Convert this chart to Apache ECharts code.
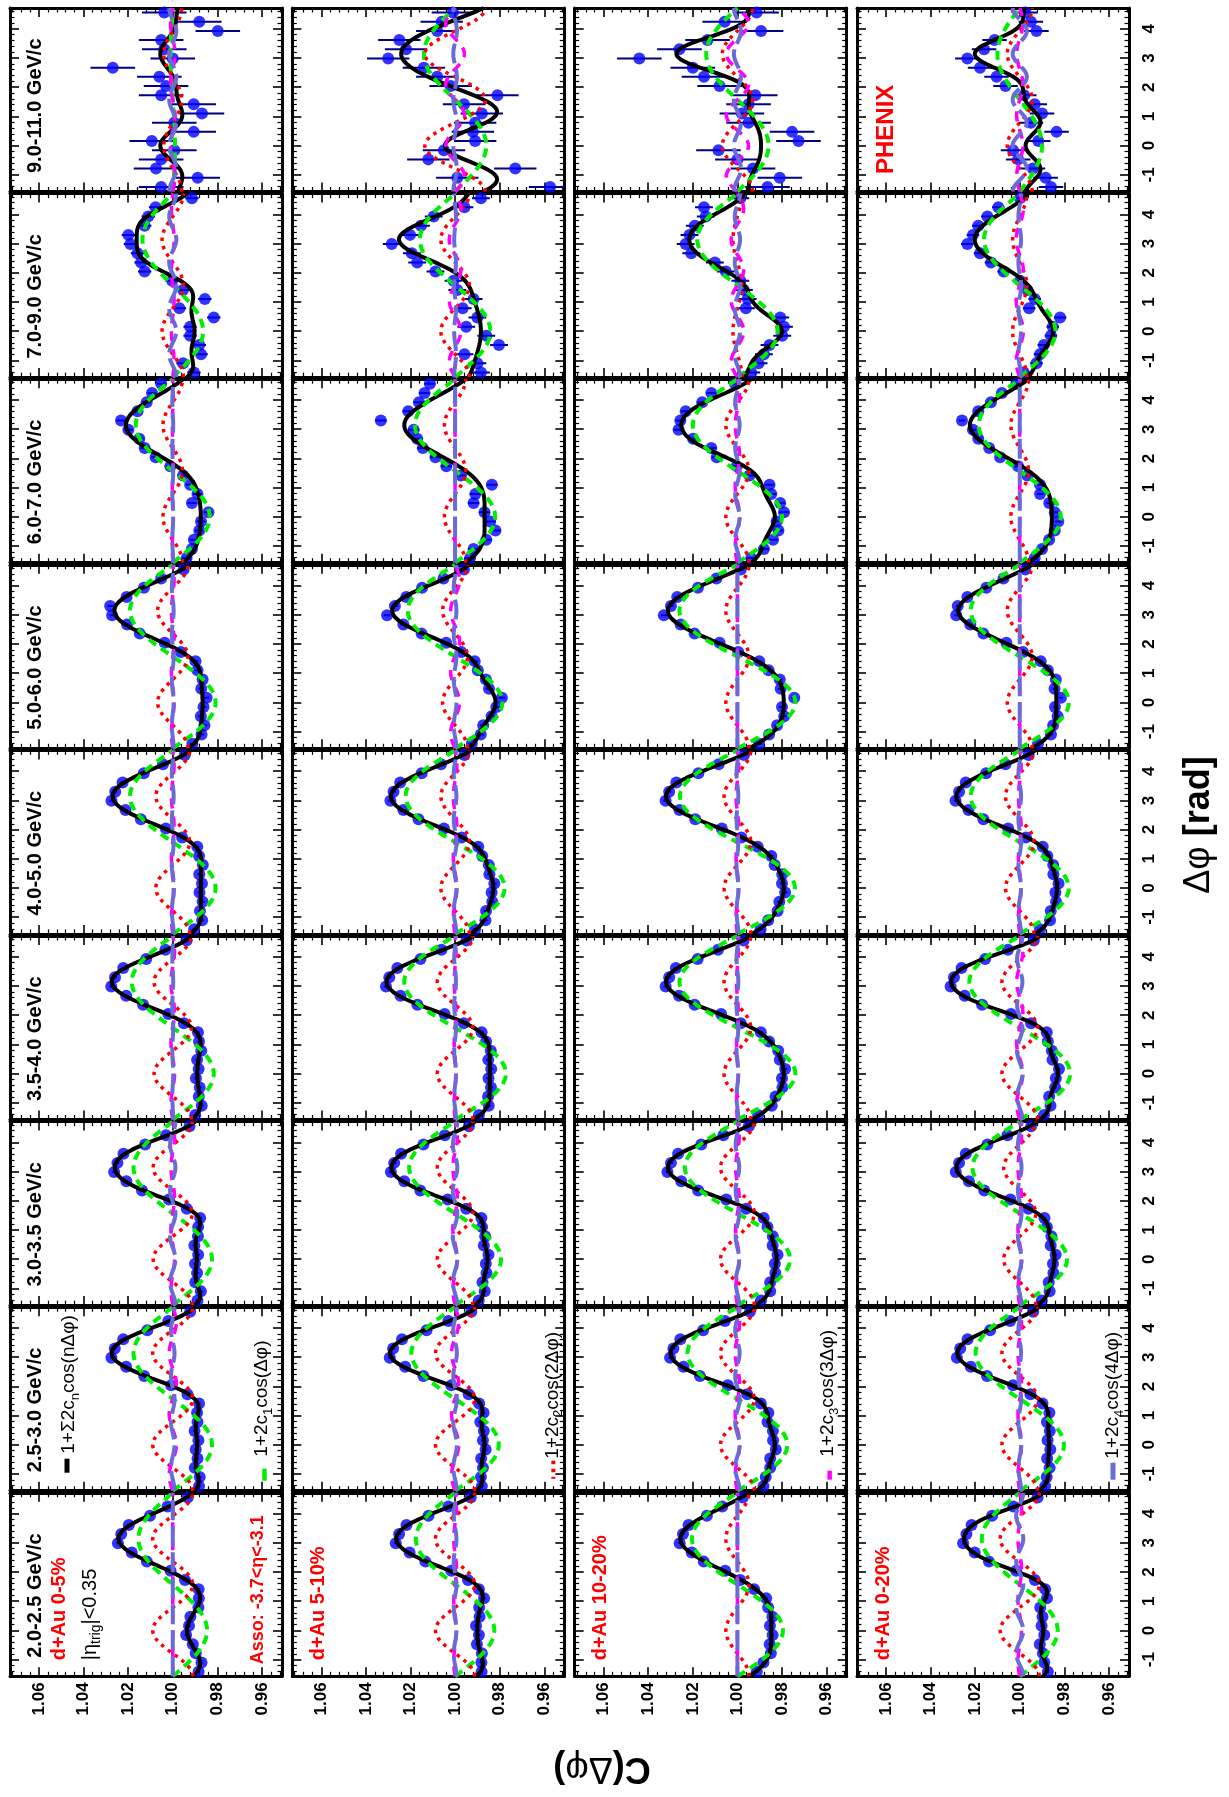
<!DOCTYPE html>
<html>
<head>
<meta charset="utf-8">
<script src="https://cdn.jsdelivr.net/npm/echarts@6/dist/echarts.min.js"></script>
<style>
html,body{margin:0;padding:0;background:#fff;}
#chart{width:1229px;height:1797px;}
</style>
</head>
<body>
<div id="chart"></div>
<script>
// ================= DATA =================
const centralities = ['d+Au 0-5%', 'd+Au 5-10%', 'd+Au 10-20%', 'd+Au 0-20%'];
// pT bins, top panel row to bottom panel row
const ptBins = ['9.0-11.0 GeV/c', '7.0-9.0 GeV/c', '6.0-7.0 GeV/c', '5.0-6.0 GeV/c', '4.0-5.0 GeV/c',
                '3.5-4.0 GeV/c', '3.0-3.5 GeV/c', '2.5-3.0 GeV/c', '2.0-2.5 GeV/c'];
// Δφ bin centres (rad)
const dphiBins = [-1.414, -1.100, -0.785, -0.471, -0.157, 0.157, 0.471, 0.785, 1.100, 1.414,
                  1.728, 2.042, 2.356, 2.670, 2.985, 3.299, 3.613, 3.927, 4.241, 4.555];
const cTickLabels = [0.96, 0.98, 1.00, 1.02, 1.04, 1.06];
const dphiTickLabels = [-1, 0, 1, 2, 3, 4];

// C(Δφ) points, one row per pT bin (top to bottom)
const corr_0to5 = [
 [1.0052,0.9888,1.0075,1.0052,0.9993,1.0094,0.9906,0.9993,0.9869,0.9906,1.0052,1.0030,1.0060,1.0269,1.0000,1.0038,1.0052,0.9798,0.9881,1.0038],
 [0.9905,0.9954,0.9873,0.9881,0.9922,0.9922,0.9816,0.9970,0.9856,0.9954,1.0003,1.0126,1.0142,1.0158,1.0190,1.0199,1.0126,1.0110,1.0077,0.9914],
 [0.9938,0.9914,0.9905,0.9881,0.9873,0.9840,0.9914,0.9889,0.9922,0.9954,1.0011,1.0077,1.0126,1.0150,1.0199,1.0232,1.0158,1.0117,1.0093,1.0052],
 [0.9912,0.9871,0.9858,0.9874,0.9862,0.9848,0.9872,0.9866,0.9889,0.9898,0.9964,1.0036,1.0148,1.0205,1.0272,1.0281,1.0207,1.0129,1.0052,0.9951],
 [0.9904,0.9868,0.9878,0.9866,0.9880,0.9869,0.9881,0.9865,0.9882,0.9890,0.9958,1.0031,1.0143,1.0212,1.0275,1.0258,1.0225,1.0130,1.0044,0.9946],
 [0.9899,0.9870,0.9883,0.9879,0.9896,0.9884,0.9891,0.9872,0.9882,0.9887,0.9950,1.0020,1.0133,1.0209,1.0276,1.0259,1.0222,1.0119,1.0033,0.9938],
 [0.9889,0.9874,0.9899,0.9891,0.9900,0.9886,0.9903,0.9887,0.9886,0.9877,0.9937,1.0017,1.0138,1.0208,1.0263,1.0248,1.0221,1.0124,1.0030,0.9925],
 [0.9882,0.9879,0.9901,0.9889,0.9897,0.9885,0.9902,0.9889,0.9891,0.9882,0.9934,1.0007,1.0128,1.0209,1.0275,1.0260,1.0222,1.0114,1.0020,0.9922],
 [0.9884,0.9871,0.9897,0.9910,0.9940,0.9927,0.9921,0.9885,0.9883,0.9884,0.9945,1.0010,1.0116,1.0184,1.0246,1.0231,1.0197,1.0102,1.0023,0.9933]
];
const corr_5to10 = [
 [0.9574,0.9990,0.9730,1.0120,1.0050,0.9910,0.9920,0.9910,0.9880,0.9960,0.9810,1.0020,1.0080,1.0140,1.0300,1.0220,1.0250,1.0080,1.0060,1.0010],
 [0.9884,0.9900,0.9958,0.9803,0.9860,0.9950,0.9900,0.9966,0.9917,0.9990,1.0007,1.0088,1.0170,1.0194,1.0284,1.0202,1.0153,1.0096,0.9958,0.9884],
 [0.9933,0.9917,0.9860,0.9819,0.9843,0.9868,0.9917,0.9909,0.9835,0.9974,1.0039,1.0088,1.0145,1.0170,1.0186,1.0333,1.0210,1.0162,1.0137,1.0113],
 [0.9925,0.9885,0.9874,0.9836,0.9815,0.9790,0.9848,0.9862,0.9898,0.9912,0.9972,1.0040,1.0150,1.0232,1.0305,1.0270,1.0219,1.0148,1.0052,0.9960],
 [0.9910,0.9864,0.9861,0.9833,0.9836,0.9824,0.9846,0.9849,0.9878,0.9896,0.9971,1.0050,1.0164,1.0232,1.0290,1.0276,1.0246,1.0150,1.0063,0.9958],
 [0.9893,0.9849,0.9852,0.9839,0.9850,0.9838,0.9851,0.9840,0.9861,0.9881,0.9961,1.0047,1.0169,1.0245,1.0310,1.0295,1.0259,1.0155,1.0061,0.9949],
 [0.9894,0.9867,0.9877,0.9859,0.9862,0.9850,0.9871,0.9865,0.9879,0.9882,0.9950,1.0033,1.0156,1.0228,1.0288,1.0273,1.0242,1.0142,1.0046,0.9938],
 [0.9880,0.9884,0.9875,0.9883,0.9863,0.9875,0.9871,0.9887,0.9872,0.9892,0.9939,1.0017,1.0142,1.0224,1.0293,1.0278,1.0238,1.0128,1.0030,0.9927],
 [0.9881,0.9882,0.9880,0.9902,0.9893,0.9906,0.9890,0.9892,0.9870,0.9893,0.9942,1.0017,1.0133,1.0204,1.0266,1.0251,1.0218,1.0119,1.0030,0.9930]
];
const corr_10to20 = [
 [0.9865,0.9810,0.9930,1.0000,1.0085,0.9726,0.9755,0.9950,0.9980,0.9950,0.9920,1.0080,1.0150,1.0200,1.0440,1.0260,1.0134,0.9894,1.0057,0.9914],
 [0.9938,0.9905,0.9881,0.9856,0.9799,0.9791,0.9808,0.9962,0.9954,0.9971,0.9987,1.0052,1.0101,1.0207,1.0232,1.0215,1.0191,1.0142,1.0150,0.9987],
 [0.9938,0.9881,0.9840,0.9816,0.9824,0.9791,0.9808,0.9848,0.9856,0.9946,1.0003,1.0093,1.0117,1.0199,1.0264,1.0256,1.0232,1.0158,1.0117,1.0011],
 [0.9903,0.9858,0.9822,0.9790,0.9800,0.9745,0.9806,0.9810,0.9860,0.9902,0.9996,1.0080,1.0192,1.0255,1.0330,1.0298,1.0270,1.0177,1.0094,0.9985],
 [0.9896,0.9862,0.9820,0.9812,0.9786,0.9800,0.9799,0.9833,0.9848,0.9909,0.9982,1.0070,1.0189,1.0260,1.0322,1.0306,1.0274,1.0175,1.0084,0.9970],
 [0.9907,0.9846,0.9829,0.9798,0.9800,0.9786,0.9810,0.9817,0.9858,0.9895,0.9985,1.0073,1.0192,1.0262,1.0322,1.0306,1.0276,1.0178,1.0087,0.9972],
 [0.9894,0.9853,0.9853,0.9830,0.9832,0.9820,0.9842,0.9841,0.9865,0.9882,0.9961,1.0050,1.0176,1.0252,1.0314,1.0298,1.0266,1.0162,1.0063,0.9949],
 [0.9883,0.9873,0.9853,0.9853,0.9828,0.9840,0.9841,0.9865,0.9861,0.9895,0.9956,1.0043,1.0168,1.0242,1.0302,1.0287,1.0256,1.0154,1.0056,0.9944],
 [0.9913,0.9883,0.9850,0.9855,0.9842,0.9854,0.9843,0.9862,0.9871,0.9925,0.9988,1.0055,1.0151,1.0205,1.0259,1.0244,1.0219,1.0137,1.0068,0.9976]
];
const corr_0to20 = [
 [0.9860,0.9884,0.9941,1.0007,1.0030,0.9917,0.9835,0.9950,0.9900,0.9933,0.9980,1.0064,1.0104,1.0178,1.0235,1.0160,1.0113,0.9925,0.9950,0.9974],
 [0.9982,0.9925,0.9909,0.9892,0.9860,0.9852,0.9819,0.9958,0.9933,0.9966,0.9998,1.0072,1.0129,1.0178,1.0235,1.0210,1.0186,1.0145,1.0096,0.9998],
 [0.9933,0.9900,0.9868,0.9843,0.9827,0.9843,0.9868,0.9909,0.9909,0.9966,1.0007,1.0088,1.0137,1.0186,1.0210,1.0259,1.0186,1.0129,1.0080,1.0015],
 [0.9918,0.9860,0.9850,0.9830,0.9842,0.9815,0.9844,0.9838,0.9874,0.9906,0.9986,1.0060,1.0163,1.0222,1.0285,1.0278,1.0235,1.0150,1.0073,0.9975],
 [0.9909,0.9864,0.9861,0.9837,0.9840,0.9826,0.9849,0.9850,0.9876,0.9897,0.9972,1.0052,1.0163,1.0230,1.0288,1.0272,1.0242,1.0151,1.0064,0.9960],
 [0.9891,0.9862,0.9868,0.9841,0.9838,0.9824,0.9853,0.9856,0.9874,0.9879,0.9949,1.0039,1.0169,1.0247,1.0310,1.0295,1.0261,1.0155,1.0053,0.9937],
 [0.9901,0.9866,0.9870,0.9849,0.9851,0.9839,0.9861,0.9858,0.9878,0.9889,0.9961,1.0042,1.0159,1.0228,1.0287,1.0272,1.0242,1.0145,1.0055,0.9949],
 [0.9886,0.9879,0.9866,0.9877,0.9863,0.9875,0.9865,0.9878,0.9867,0.9898,0.9952,1.0030,1.0147,1.0220,1.0282,1.0267,1.0234,1.0133,1.0043,0.9940],
 [0.9874,0.9890,0.9896,0.9910,0.9890,0.9902,0.9898,0.9908,0.9878,0.9886,0.9932,1.0016,1.0138,1.0202,1.0254,1.0239,1.0216,1.0124,1.0029,0.9920]
];
// statistical error (half length of bar) per pT bin
const errors_0to5   = [0.0100, 0.0030, 0.0020, 0.0012, 0.0009, 0.0008, 0.0008, 0.0007, 0.0007];
const errors_5to10  = [0.0095, 0.0040, 0.0025, 0.0015, 0.0011, 0.0010, 0.0009, 0.0008, 0.0008];
const errors_10to20 = [0.0100, 0.0040, 0.0022, 0.0013, 0.0010, 0.0009, 0.0008, 0.0007, 0.0007];
const errors_0to20  = [0.0055, 0.0028, 0.0015, 0.0009, 0.0007, 0.0006, 0.0005, 0.0005, 0.0005];
// fitted Fourier coefficients [c1, c2, c3, c4] per pT bin
const fourier_0to5 = [
 [-0.0005,0.0020,0.0005,0.0008],[-0.0068,0.0024,0.0003,-0.0008],[-0.0083,0.0022,-0.0001,-0.0001],
 [-0.0096,0.0034,-0.0003,-0.0002],[-0.0096,0.0038,-0.0003,-0.0002],[-0.0092,0.0042,-0.0004,-0.0001],
 [-0.0088,0.0044,-0.0004,-0.0006],[-0.0088,0.0045,-0.0008,-0.0004],[-0.0077,0.0045,0.0000,0.0000]];
const fourier_5to10 = [
 [-0.0070,0.0068,0.0021,0.0004],[-0.0079,0.0032,-0.0013,0.0002],[-0.0090,0.0024,0.0000,0.0000],
 [-0.0106,0.0028,-0.0010,-0.0003],[-0.0111,0.0032,-0.0004,-0.0003],[-0.0114,0.0040,-0.0002,-0.0002],
 [-0.0103,0.0040,-0.0005,-0.0005],[-0.0098,0.0044,-0.0008,-0.0004],[-0.0088,0.0044,-0.0003,-0.0003]];
const fourier_10to20 = [
 [-0.0070,0.0034,-0.0025,0.0008],[-0.0090,0.0010,-0.0014,-0.0006],[-0.0100,0.0026,-0.0005,-0.0005],
 [-0.0130,0.0026,0.0000,0.0000],[-0.0129,0.0030,-0.0003,-0.0002],[-0.0130,0.0030,-0.0002,-0.0002],
 [-0.0118,0.0038,-0.0004,-0.0004],[-0.0112,0.0038,-0.0005,-0.0005],[-0.0102,0.0026,0.0000,0.0000]];
const fourier_0to20 = [
 [-0.0050,0.0028,-0.0007,0.0016],[-0.0080,0.0016,-0.0008,-0.0003],[-0.0092,0.0020,0.0000,0.0000],
 [-0.0110,0.0028,0.0000,0.0000],[-0.0110,0.0032,-0.0003,-0.0003],[-0.0113,0.0040,-0.0007,-0.0006],
 [-0.0106,0.0036,-0.0004,-0.0004],[-0.0099,0.0040,-0.0004,-0.0003],[-0.0085,0.0044,-0.0004,-0.0008]];

// ================= BUILD =================
const corrData = [corr_0to5, corr_5to10, corr_10to20, corr_0to20];
const errData = [errors_0to5, errors_5to10, errors_10to20, errors_0to20];
const fourierData = [fourier_0to5, fourier_5to10, fourier_10to20, fourier_0to20];

const FONT = '"Liberation Sans", Arial, Helvetica, sans-serif';
const CMIN = 0.951, CMAX = 1.073;
const PMIN = -Math.PI / 2, PMAX = 1.5 * Math.PI;
const colLeft = i => 10 + i * 282.33;
const rowTop = j => 8 + j * 185.6;
const PW = 272, PH = 183.5;

// sampling of the fit functions along Δφ
const curveGrid = [];
for (let s = 0; s <= 240; s++) curveGrid.push(PMIN + s * (PMAX - PMIN) / 240);

function fitCurve(cs, which) {
  return curveGrid.map(x => {
    let v = 1;
    if (which === 0) { for (let n = 1; n <= 4; n++) v += 2 * cs[n - 1] * Math.cos(n * x); }
    else v += 2 * cs[which - 1] * Math.cos(which * x);
    return [v, x];
  });
}

const near = (v, arr) => arr.some(t => Math.abs(t - v) < 1e-6);
const grids = [], xAxes = [], yAxes = [], series = [];
const frame = { show: true, onZero: false, lineStyle: { color: '#000', width: 3 } };
const tickMajor = { show: true, inside: true, length: 9, lineStyle: { color: '#000', width: 1.6 } };

for (let i = 0; i < 4; i++) {
  for (let j = 0; j < 9; j++) {
    const p = grids.length;
    grids.push({ left: colLeft(i), top: rowTop(j), width: PW, height: PH, containLabel: false });
    const xBase = {
      gridIndex: p, type: 'value', inverse: true, min: CMIN, max: CMAX, splitNumber: 5,
      axisLine: frame, axisTick: tickMajor,
      minorTick: { show: true, splitNumber: 5, length: 4.5, lineStyle: { color: '#000', width: 1.2 } },
      splitLine: { show: false }, minorSplitLine: { show: false }
    };
    xAxes.push(Object.assign({}, xBase, {
      position: 'bottom',
      axisLabel: j === 8 ? {
        show: true, rotate: 90, margin: 6, fontSize: 17, fontWeight: 'bold', fontFamily: FONT, color: '#000',
        showMinLabel: false, showMaxLabel: false,
        formatter: v => near(v, cTickLabels) ? v.toFixed(2) : ''
      } : { show: false }
    }));
    xAxes.push(Object.assign({}, xBase, { position: 'top', axisLabel: { show: false } }));
    const yBase = {
      gridIndex: p, type: 'value', min: PMIN, max: PMAX, splitNumber: 5,
      axisLine: frame, axisTick: tickMajor,
      minorTick: { show: true, splitNumber: 5, length: 4.5, lineStyle: { color: '#000', width: 1.2 } },
      splitLine: { show: false }, minorSplitLine: { show: false }
    };
    yAxes.push(Object.assign({}, yBase, { position: 'left', axisLabel: { show: false } }));
    yAxes.push(Object.assign({}, yBase, {
      position: 'right',
      axisLabel: i === 3 ? {
        show: true, rotate: 90, margin: 12, fontSize: 17, fontWeight: 'bold', fontFamily: FONT, color: '#000',
        showMinLabel: false, showMaxLabel: false,
        formatter: v => near(v, dphiTickLabels) ? String(Math.round(v)) : ''
      } : { show: false }
    }));

    const xi = 2 * p, yi = 2 * p;
    const vals = corrData[i][j], err = errData[i][j], cs = fourierData[i][j];
    const pts = vals.map((v, k) => [v, dphiBins[k], err]);

    series.push({
      type: 'custom', xAxisIndex: xi, yAxisIndex: yi, z: 2, silent: true, clip: true,
      encode: { x: 0, y: 1 }, data: pts,
      renderItem: (params, api) => {
        const c = api.value(0), y = api.value(1), e = api.value(2);
        const a = api.coord([c - e, y]), b = api.coord([c + e, y]);
        return { type: 'line', shape: { x1: a[0], y1: a[1], x2: b[0], y2: b[1] },
                 style: { stroke: '#000080', lineWidth: 2 } };
      }
    });
    series.push({
      type: 'scatter', xAxisIndex: xi, yAxisIndex: yi, z: 3, silent: true,
      symbol: 'circle', symbolSize: 12, itemStyle: { color: '#0000ff' },
      data: pts.map(d => [d[0], d[1]])
    });
    const lineDefs = [
      { w: 0, color: '#000000', width: 4, type: 'solid', z: 4 },
      { w: 1, color: '#00ee00', width: 4, type: [9, 6], z: 5 },
      { w: 2, color: '#ff0000', width: 3.5, type: [3.5, 5], z: 6 },
      { w: 3, color: '#ff00ff', width: 3.5, type: [10, 8], z: 7 },
      { w: 4, color: '#6b6bd6', width: 4, type: [20, 6], z: 8 }
    ];
    lineDefs.forEach(d => {
      series.push({
        type: 'line', xAxisIndex: xi, yAxisIndex: yi, z: d.z, silent: true, clip: true,
        showSymbol: false, symbol: 'none', smooth: false,
        lineStyle: { color: d.color, width: d.width, type: d.type },
        data: fitCurve(cs, d.w)
      });
    });
  }
}

// ---------- text ----------
function vtext(x, yb, text, o) {
  o = o || {};
  const st = {
    text: text, fill: o.color || '#000',
    font: (o.weight || 'bold') + ' ' + (o.size || 20) + 'px ' + FONT,
    align: o.align || 'left', verticalAlign: 'middle'
  };
  if (o.rich) st.rich = o.rich;
  return { type: 'text', x: x, y: yb, rotation: o.rot === undefined ? Math.PI / 2 : o.rot, z: 100, silent: true, style: st };
}
function richSet(size, color, weight) {
  return {
    n: { fontSize: size, fontFamily: FONT, fontWeight: weight || 'normal', fill: color, color: color, lineHeight: size + 7 },
    s: { fontSize: Math.round(size * 0.68), fontFamily: FONT, fontWeight: weight || 'normal', fill: color, color: color,
         lineHeight: size + 7, verticalAlign: 'bottom' }
  };
}
const graphic = [];
const rowBottom = j => rowTop(j) + PH;
ptBins.forEach((t, j) => graphic.push(vtext(35, rowBottom(j) - 18.5, t, { size: 20 })));
centralities.forEach((t, i) => graphic.push(vtext(i === 0 ? 59 : colLeft(i) + 26, rowBottom(8) - 16, t, { size: 20, color: '#ff0000' })));
graphic.push(vtext(90, rowBottom(8) - 16, '{n||η}{s|trig}{n||<0.35}', { rich: richSet(20, '#000') }));
graphic.push(vtext(258, rowBottom(8) - 12, 'Asso: -3.7<η<-3.1', { size: 18, color: '#ff0000' }));
graphic.push(vtext(886, rowBottom(0) - 17.5, 'PHENIX', { size: 24, color: '#ff0000' }));

// legend (row 2.5-3.0 GeV/c)
const lgB = rowBottom(7);
graphic.push(vtext(69, lgB - 37, '{n|1+Σ2c}{s|n}{n|cos(nΔφ)}', { rich: richSet(19, '#000') }));
graphic.push({ type: 'line', z: 100, silent: true, shape: { x1: 67, y1: lgB - 32, x2: 67, y2: lgB - 18 }, style: { stroke: '#000', lineWidth: 5 } });
graphic.push(vtext(262, lgB - 34, '{n|1+2c}{s|1}{n|cos(Δφ)}', { rich: richSet(19, '#000') }));
graphic.push({ type: 'line', z: 100, silent: true, shape: { x1: 264.5, y1: lgB - 22, x2: 264.5, y2: lgB - 10 }, style: { stroke: '#00ee00', lineWidth: 4.5 } });
graphic.push(vtext(colLeft(1) + 260, lgB - 32, '{n|1+2c}{s|2}{n|cos(2Δφ)}', { rich: richSet(19, '#000') }));
graphic.push({ type: 'line', z: 100, silent: true, shape: { x1: colLeft(1) + 261, y1: lgB - 30, x2: colLeft(1) + 261, y2: lgB - 12 }, style: { stroke: '#ff0000', lineWidth: 4, lineDash: [3.5, 4.5] } });
graphic.push(vtext(colLeft(2) + 253, lgB - 34, '{n|1+2c}{s|3}{n|cos(3Δφ)}', { rich: richSet(19, '#000') }));
graphic.push({ type: 'line', z: 100, silent: true, shape: { x1: colLeft(2) + 255, y1: lgB - 20, x2: colLeft(2) + 255, y2: lgB - 11 }, style: { stroke: '#ff00ff', lineWidth: 4.5 } });
graphic.push(vtext(colLeft(3) + 256, lgB - 32, '{n|1+2c}{s|4}{n|cos(4Δφ)}', { rich: richSet(19, '#000') }));
graphic.push({ type: 'line', z: 100, silent: true, shape: { x1: colLeft(3) + 256, y1: lgB - 28, x2: colLeft(3) + 256, y2: lgB - 11 }, style: { stroke: '#6b6bd6', lineWidth: 5 } });

// axis titles
graphic.push({
  type: 'text', x: 1199, y: 825, rotation: Math.PI / 2, z: 100, silent: true,
  style: { text: '{g|Δφ }{b|[rad]}', align: 'center', verticalAlign: 'middle',
    rich: { g: { fontSize: 36, fontFamily: FONT, fill: '#000', color: '#000' },
            b: { fontSize: 36, fontFamily: FONT, fontWeight: 'bold', fill: '#000', color: '#000' } } }
});
graphic.push({
  type: 'text', x: 602, y: 1768, rotation: Math.PI, z: 100, silent: true,
  style: { text: '{b|C(}{g|Δφ}{b|)}', align: 'center', verticalAlign: 'middle',
    rich: { g: { fontSize: 36, fontFamily: FONT, fill: '#000', color: '#000' },
            b: { fontSize: 36, fontFamily: FONT, fontWeight: 'bold', fill: '#000', color: '#000' } } }
});

const chart = echarts.init(document.getElementById('chart'), null, { renderer: 'canvas' });
chart.setOption({
  animation: false, backgroundColor: '#ffffff',
  grid: grids, xAxis: xAxes, yAxis: yAxes, series: series, graphic: graphic
});
</script>
</body>
</html>
